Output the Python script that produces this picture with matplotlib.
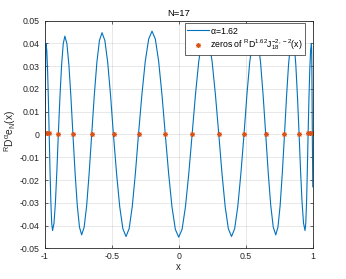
import matplotlib
matplotlib.use("Agg")
import matplotlib.pyplot as plt

# curve ^R D^alpha e_N(x)
curve_x = [-1.0000, -0.9965, -0.9949, -0.9932, -0.9916, -0.9900, -0.9840, -0.9780, -0.9720, -0.9660,
           -0.9598, -0.9535, -0.9472, -0.9410, -0.9302, -0.9195, -0.9088, -0.8980, -0.8858, -0.8735,
           -0.8612, -0.8490, -0.8340, -0.8190, -0.8040, -0.7890, -0.7728, -0.7565, -0.7402, -0.7240,
           -0.7052, -0.6865, -0.6678, -0.6490, -0.6298, -0.6105, -0.5912, -0.5720, -0.5508, -0.5295,
           -0.5082, -0.4870, -0.4635, -0.4400, -0.4165, -0.3930, -0.3698, -0.3465, -0.3232, -0.3000,
           -0.2748, -0.2495, -0.2242, -0.1990, -0.1743, -0.1495, -0.1248, -0.1000, -0.0750, -0.0500,
           -0.0250, 0.0000, 0.0250, 0.0500, 0.0750, 0.1000, 0.1248, 0.1495, 0.1743, 0.1990,
           0.2240, 0.2490, 0.2740, 0.2990, 0.3228, 0.3465, 0.3703, 0.3940, 0.4172, 0.4405,
           0.4638, 0.4870, 0.5082, 0.5295, 0.5508, 0.5720, 0.5912, 0.6105, 0.6298, 0.6490,
           0.6678, 0.6865, 0.7052, 0.7240, 0.7402, 0.7565, 0.7728, 0.7890, 0.8040, 0.8190,
           0.8340, 0.8490, 0.8612, 0.8735, 0.8858, 0.8980, 0.9090, 0.9200, 0.9310, 0.9420,
           0.9478, 0.9535, 0.9592, 0.9650, 0.9712, 0.9775, 0.9838, 0.9900, 0.9916, 0.9932,
           0.9949, 0.9965, 1.0000]
curve_y = [-0.0190, 0.0000, 0.0153, 0.0283, 0.0370, 0.0400, 0.0370, 0.0283, 0.0153, 0.0000,
           -0.0161, -0.0298, -0.0390, -0.0422, -0.0390, -0.0298, -0.0161, 0.0000, 0.0165, 0.0305,
           0.0399, 0.0432, 0.0399, 0.0305, 0.0165, 0.0000, -0.0169, -0.0312, -0.0407, -0.0441,
           -0.0407, -0.0312, -0.0169, 0.0000, 0.0171, 0.0316, 0.0413, 0.0447, 0.0413, 0.0316,
           0.0171, 0.0000, -0.0171, -0.0317, -0.0414, -0.0448, -0.0414, -0.0317, -0.0171, 0.0000,
           0.0174, 0.0321, 0.0419, 0.0454, 0.0419, 0.0321, 0.0174, 0.0000, -0.0173, -0.0319,
           -0.0417, -0.0451, -0.0417, -0.0319, -0.0173, 0.0000, 0.0174, 0.0321, 0.0419, 0.0454,
           0.0419, 0.0321, 0.0174, 0.0000, -0.0171, -0.0317, -0.0414, -0.0448, -0.0414, -0.0317,
           -0.0171, 0.0000, 0.0171, 0.0316, 0.0413, 0.0447, 0.0413, 0.0316, 0.0171, 0.0000,
           -0.0169, -0.0312, -0.0407, -0.0441, -0.0407, -0.0312, -0.0169, 0.0000, 0.0165, 0.0305,
           0.0399, 0.0432, 0.0399, 0.0305, 0.0165, 0.0000, -0.0161, -0.0298, -0.0390, -0.0422,
           -0.0390, -0.0298, -0.0161, 0.0000, 0.0153, 0.0283, 0.0370, 0.0400, 0.0370, 0.0283,
           0.0153, 0.0000, -0.0230]

# zeros of ^R D^1.62 J_18^{-2,-2}(x)
zeros_x = [-0.999, -0.981, -0.965, -0.898, -0.789, -0.649, -0.486, -0.299, -0.100,
           0.100, 0.299, 0.486, 0.649, 0.789, 0.898, 0.965, 0.981, 0.999]
zeros_y = [0.0006, 0.0006, 0.0006, 0, 0, 0, 0, 0, 0, 0, 0, 0, 0, 0, 0, 0.0006, 0.0006, 0.0006]

x_ticks = [-1, -0.5, 0, 0.5, 1]
x_tick_labels = ['-1', '-0.5', '0', '0.5', '1']
y_ticks = [-0.05, -0.04, -0.03, -0.02, -0.01, 0, 0.01, 0.02, 0.03, 0.04, 0.05]
y_tick_labels = ['-0.05', '-0.04', '-0.03', '-0.02', '-0.01', '0', '0.01', '0.02', '0.03', '0.04', '0.05']

plt.rcParams['font.family'] = ['Liberation Sans', 'DejaVu Sans']
plt.rcParams['mathtext.default'] = 'regular'
FS = 6.3
dark = '#262626'
fig = plt.figure(figsize=(3.46, 2.79), dpi=100)
ax = fig.add_axes([0.129, 0.110, 0.775, 0.816])
ax.plot(curve_x, curve_y, color='#0072BD', lw=0.8, label=r'$\alpha$=1.62')
ax.plot(zeros_x, zeros_y, ls='none', marker=(8, 2, 0), ms=3.6, mew=0.7, color='#D95319',
        label=r'zeros of $^{R}D^{1.62}J^{-2,-2}_{18}(x)$')
ax.set_xlim(-1, 1)
ax.set_ylim(-0.05, 0.05)
ax.set_xticks(x_ticks)
ax.set_xticklabels(x_tick_labels)
ax.set_yticks(y_ticks)
ax.set_yticklabels(y_tick_labels)
ax.tick_params(direction='in', top=True, right=True, length=2.5, width=0.5,
               labelsize=FS, colors=dark)
ax.tick_params(axis='x', pad=2.5)
ax.tick_params(axis='y', pad=3.5)
for sp in ax.spines.values():
    sp.set_color(dark)
    sp.set_linewidth(0.6)
ax.grid(True, color=dark, alpha=0.15, lw=0.5)
ax.set_title('N=17', fontsize=6.8, color='black', pad=3.5)
ax.set_xlabel('x', fontsize=7.0, color=dark)
ax.xaxis.set_label_coords(0.5, -0.058)
ax.set_ylabel(r'$^{R}D^{\alpha}e_{N}(x)$', fontsize=7.4, color=dark)
ax.yaxis.set_label_coords(-0.098, 0.515)
leg = ax.legend(loc='upper right', bbox_to_anchor=(0.972, 0.990), fontsize=6.3, fancybox=False,
                edgecolor=dark, framealpha=1, handlelength=2.5, handletextpad=0.1, borderpad=0.3,
                labelspacing=0.2, borderaxespad=0)
leg.get_frame().set_linewidth(0.5)
fig.savefig("out.png")
